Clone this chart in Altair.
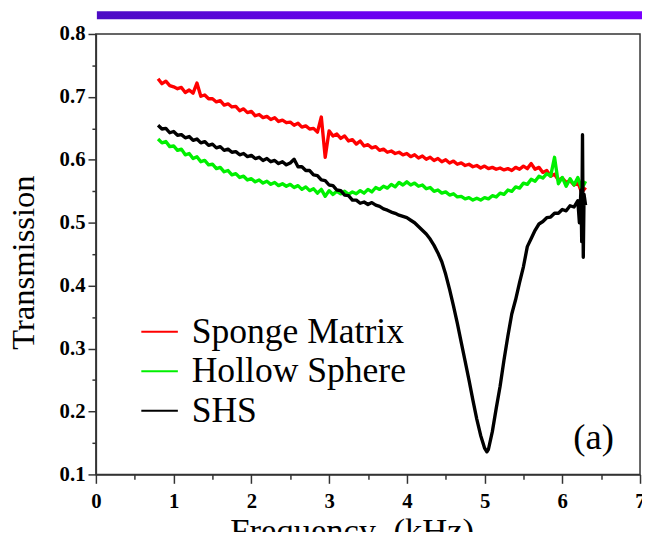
import altair as alt
import pandas as pd

FONT = "Liberation Serif"

series_names = ["Sponge Matrix", "Hollow Sphere", "SHS"]
series_colors = ["#ff0000", "#00f000", "#000000"]

freq = [0.80, 0.85, 0.90, 0.95, 1.00, 1.05, 1.10, 1.15, 1.20, 1.25,
        1.30, 1.35, 1.40, 1.45, 1.50, 1.55, 1.60, 1.65, 1.70, 1.75,
        1.80, 1.85, 1.90, 1.95, 2.00, 2.05, 2.10, 2.15, 2.20, 2.25,
        2.30, 2.35, 2.40, 2.45, 2.50, 2.55, 2.60, 2.65, 2.70, 2.75,
        2.80, 2.85, 2.90, 2.95, 3.00, 3.05, 3.10, 3.15, 3.20, 3.25,
        3.30, 3.35, 3.40, 3.45, 3.50, 3.55, 3.60, 3.65, 3.70, 3.75,
        3.80, 3.85, 3.90, 3.95, 4.00, 4.05, 4.10, 4.15, 4.20, 4.25,
        4.30, 4.35, 4.40, 4.45, 4.50, 4.55, 4.60, 4.65, 4.70, 4.75,
        4.80, 4.85, 4.90, 4.95, 5.00, 5.05, 5.10, 5.15, 5.20, 5.25,
        5.30, 5.35, 5.40, 5.45, 5.50, 5.55, 5.60, 5.65, 5.70, 5.75,
        5.80, 5.85, 5.90, 5.95, 6.00, 6.05, 6.10, 6.15, 6.20, 6.25,
        6.30]

sponge = [0.729, 0.721, 0.725, 0.718, 0.716, 0.713, 0.715, 0.707, 0.711, 0.706,
          0.722, 0.701, 0.703, 0.697, 0.697, 0.692, 0.694, 0.687, 0.689, 0.684,
          0.685, 0.678, 0.681, 0.675, 0.677, 0.670, 0.672, 0.667, 0.669, 0.664,
          0.667, 0.661, 0.663, 0.659, 0.660, 0.655, 0.658, 0.652, 0.654, 0.649,
          0.650, 0.644, 0.668, 0.604, 0.646, 0.638, 0.641, 0.634, 0.638, 0.630,
          0.632, 0.625, 0.630, 0.622, 0.624, 0.619, 0.621, 0.615, 0.617, 0.612,
          0.614, 0.610, 0.612, 0.608, 0.610, 0.605, 0.608, 0.603, 0.606, 0.601,
          0.604, 0.599, 0.602, 0.597, 0.600, 0.595, 0.598, 0.593, 0.595, 0.591,
          0.593, 0.589, 0.591, 0.587, 0.590, 0.586, 0.588, 0.585, 0.587, 0.584,
          0.586, 0.583, 0.588, 0.585, 0.590, 0.586, 0.594, 0.585, 0.588, 0.580,
          0.583, 0.574, 0.577, 0.568, 0.571, 0.564, 0.567, 0.560, 0.564, 0.548,
          0.556]

hollow = [0.633, 0.627, 0.629, 0.621, 0.622, 0.615, 0.617, 0.608, 0.610, 0.602,
          0.605, 0.597, 0.599, 0.592, 0.593, 0.586, 0.588, 0.581, 0.583, 0.576,
          0.578, 0.572, 0.574, 0.568, 0.570, 0.565, 0.568, 0.563, 0.566, 0.561,
          0.564, 0.559, 0.562, 0.558, 0.561, 0.556, 0.559, 0.553, 0.557, 0.551,
          0.554, 0.547, 0.553, 0.542, 0.551, 0.545, 0.550, 0.546, 0.550, 0.545,
          0.549, 0.546, 0.551, 0.547, 0.553, 0.549, 0.556, 0.553, 0.558, 0.555,
          0.561, 0.557, 0.564, 0.560, 0.565, 0.560, 0.563, 0.558, 0.560, 0.554,
          0.556, 0.550, 0.552, 0.547, 0.549, 0.544, 0.546, 0.541, 0.542, 0.538,
          0.540, 0.536, 0.539, 0.536, 0.540, 0.538, 0.543, 0.541, 0.547, 0.545,
          0.552, 0.550, 0.557, 0.555, 0.563, 0.561, 0.569, 0.566, 0.574, 0.571,
          0.578, 0.574, 0.604, 0.562, 0.572, 0.558, 0.570, 0.560, 0.572, 0.554,
          0.566]

freq_shs = [0.80, 0.85, 0.90, 0.95, 1.00, 1.05, 1.10, 1.15, 1.20, 1.25,
            1.30, 1.35, 1.40, 1.45, 1.50, 1.55, 1.60, 1.65, 1.70, 1.75,
            1.80, 1.85, 1.90, 1.95, 2.00, 2.05, 2.10, 2.15, 2.20, 2.25,
            2.30, 2.35, 2.40, 2.45, 2.50, 2.55, 2.60, 2.65, 2.70, 2.75,
            2.80, 2.85, 2.90, 2.95, 3.00, 3.05, 3.10, 3.15, 3.20, 3.25,
            3.30, 3.35, 3.40, 3.45, 3.50, 3.55, 3.60, 3.65, 3.70, 3.75,
            3.80, 3.85, 3.90, 3.95, 4.00, 4.05, 4.10, 4.15, 4.20, 4.25,
            4.30, 4.35, 4.40, 4.45, 4.50, 4.55, 4.60, 4.65, 4.70, 4.75,
            4.80, 4.85, 4.90, 4.95, 5.00, 5.03, 5.05, 5.10, 5.15, 5.20,
            5.25, 5.30, 5.35, 5.40, 5.45, 5.50, 5.55, 5.60, 5.65, 5.70,
            5.75, 5.80, 5.85, 5.90, 5.95, 6.00, 6.05, 6.10, 6.15, 6.20,
            6.22, 6.24, 6.25, 6.26, 6.27, 6.28, 6.30]

shs = [0.655, 0.649, 0.650, 0.643, 0.645, 0.639, 0.640, 0.635, 0.637, 0.631,
       0.633, 0.627, 0.629, 0.623, 0.625, 0.619, 0.621, 0.615, 0.617, 0.612,
       0.613, 0.608, 0.610, 0.605, 0.607, 0.602, 0.604, 0.599, 0.602, 0.597,
       0.599, 0.594, 0.597, 0.592, 0.595, 0.601, 0.589, 0.589, 0.583, 0.583,
       0.576, 0.575, 0.568, 0.567, 0.560, 0.559, 0.552, 0.551, 0.544, 0.543,
       0.536, 0.536, 0.531, 0.533, 0.529, 0.532, 0.528, 0.526, 0.522, 0.520,
       0.517, 0.515, 0.512, 0.510, 0.508, 0.504, 0.500, 0.494, 0.488, 0.482,
       0.474, 0.464, 0.452, 0.438, 0.418, 0.394, 0.368, 0.340, 0.310, 0.280,
       0.250, 0.218, 0.188, 0.162, 0.142, 0.136, 0.140, 0.168, 0.205, 0.240,
       0.282, 0.320, 0.355, 0.378, 0.405, 0.430, 0.462, 0.475, 0.488, 0.498,
       0.502, 0.508, 0.509, 0.515, 0.515, 0.521, 0.519, 0.527, 0.525, 0.535,
       0.500, 0.552, 0.470, 0.640, 0.445, 0.545, 0.528]

x_ticks = [0, 0.5, 1, 1.5, 2, 2.5, 3, 3.5, 4, 4.5, 5, 5.5, 6, 6.5, 7]
y_ticks = [0.1, 0.15, 0.2, 0.25, 0.3, 0.35, 0.4, 0.45, 0.5, 0.55, 0.6, 0.65, 0.7, 0.75, 0.8]

rows = []
for f, v in zip(freq, sponge):
    rows.append({"f": f, "t": v, "s": series_names[0], "k": 0})
for f, v in zip(freq, hollow):
    rows.append({"f": f, "t": v, "s": series_names[1], "k": 1})
for f, v in zip(freq_shs, shs):
    rows.append({"f": f, "t": v, "s": series_names[2], "k": 2})
df = pd.DataFrame(rows)

AX = "#333333"
y_major = "abs(datum.value*10 - round(datum.value*10)) < 0.001"
x_major = "abs(datum.value - round(datum.value)) < 0.001"

x_axis = alt.Axis(
    values=x_ticks,
    labelExpr=f"({x_major}) ? format(datum.value, 'd') : ''",
    tickSize={"condition": {"test": x_major, "value": 9}, "value": 5},
    tickWidth=1.5, tickColor=AX, domainColor=AX, domainWidth=1.5,
    labelFont=FONT, labelFontSize=21, labelFontWeight="bold", labelColor="black",
    labelPadding=7, labelFlush=False, labelOverlap=False, grid=False,
    title="Frequency\u00a0\u00a0(kHz)", titleFont=FONT, titleFontSize=35,
    titleFontWeight="normal", titleColor="black",
    titleX=259, titleY=68, titleAlign="center", titleBaseline="alphabetic",
)
y_axis = alt.Axis(
    values=y_ticks,
    labelExpr=f"({y_major}) ? format(datum.value, '.1f') : ''",
    tickSize={"condition": {"test": y_major, "value": 8}, "value": 4},
    tickWidth=1.5, tickColor=AX, domainColor=AX, domainWidth=1.5,
    labelFont=FONT, labelFontSize=21, labelFontWeight="bold", labelColor="black",
    labelPadding=3, labelFlush=False, labelOverlap=False, grid=False,
    title="Transmission", titleFont=FONT, titleFontSize=33,
    titleFontWeight="normal", titleColor="black", titleAngle=270,
    titleX=-63, titleY=231, titleAlign="center", titleBaseline="alphabetic",
)

lines = alt.Chart(df).mark_line(clip=True, strokeJoin="round", strokeWidth=3.4).encode(
    x=alt.X("f:Q", scale=alt.Scale(domain=[0, 7], nice=False, zero=False), axis=x_axis),
    y=alt.Y("t:Q", scale=alt.Scale(domain=[0.1, 0.8], nice=False, zero=False), axis=y_axis),
    color=alt.Color(
        "s:N",
        scale=alt.Scale(domain=series_names, range=series_colors),
        sort=series_names,
        legend=alt.Legend(
            title=None, orient="none", legendX=45, legendY=282, padding=0,
            symbolType="stroke", symbolSize=1369, symbolStrokeWidth=2,
            labelFont=FONT, labelFontSize=36, labelColor="black", labelOffset=13,
            labelLimit=400, rowPadding=2,
        ),
    ),
    detail="k:N",
)

banner = alt.Chart(pd.DataFrame({"a": [1]})).mark_rect(
    color=alt.LinearGradient(
        gradient="linear", x1=0, x2=1, y1=0, y2=0,
        stops=[alt.GradientStop(color="#4c0cc4", offset=0),
               alt.GradientStop(color="#6a00f0", offset=0.5),
               alt.GradientStop(color="#7a00ff", offset=1)],
    )
).encode(x=alt.value(1), x2=alt.value(556), y=alt.value(-23), y2=alt.value(-15))

tag = alt.Chart(pd.DataFrame({"a": [1]})).mark_text(
    font=FONT, fontSize=37, align="center", baseline="middle", color="black"
).encode(x=alt.value(504), y=alt.value(409), text=alt.value("(a)"))

chart = alt.layer(banner, lines, tag).properties(
    width=551, height=446,
    autosize=alt.AutoSizeParams(type="none"),
    padding={"left": 89, "top": 23, "right": 2, "bottom": 55},
    background="white",
).configure_view(stroke=AX, strokeWidth=1.5)

chart.save("out.html", embed_options={"renderer": "svg", "actions": False})
